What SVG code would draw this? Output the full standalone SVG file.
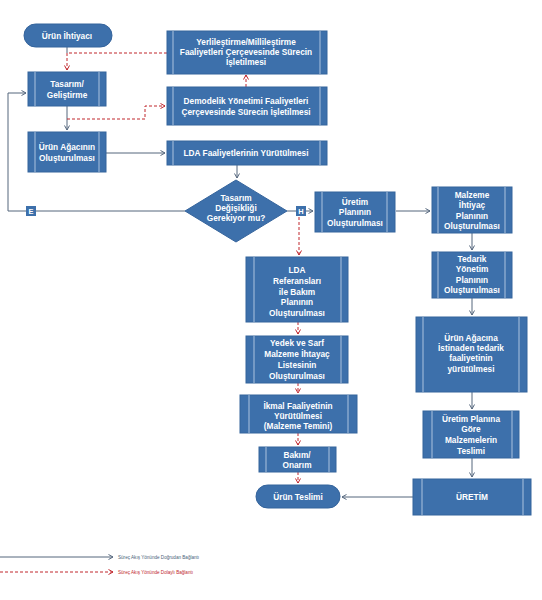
<svg xmlns="http://www.w3.org/2000/svg" width="542" height="600" viewBox="0 0 542 600">
<style>
.b{fill:#3d70ab;stroke:#35649c;stroke-width:1}
.il{stroke:#c9d8ec;stroke-width:0.8}
.t{font-family:"Liberation Sans",Arial,sans-serif;font-weight:bold;font-size:8.3px;fill:#ffffff;text-anchor:middle}
.s{font-family:"Liberation Sans",Arial,sans-serif;font-weight:bold;font-size:7.4px;fill:#ffffff;text-anchor:middle}
.g{fill:none;stroke:#55677d;stroke-width:1}
.r{fill:none;stroke:#c0272d;stroke-width:1;stroke-dasharray:3,2}
.lg{font-family:"Liberation Sans",Arial,sans-serif;font-size:4.6px}
</style>
<defs>
<marker id="ag" markerWidth="6" markerHeight="6" refX="5" refY="3" orient="auto" markerUnits="userSpaceOnUse"><path d="M0.5,0.5 L5,3 L0.5,5.5" fill="none" stroke="#55677d" stroke-width="1"/></marker>
<marker id="ar" markerWidth="6" markerHeight="6" refX="5" refY="3" orient="auto" markerUnits="userSpaceOnUse"><path d="M0.5,0.5 L5,3 L0.5,5.5" fill="none" stroke="#c0272d" stroke-width="1"/></marker>
</defs>
<rect width="542" height="600" fill="#ffffff"/>

<g id="connectors">
<path class="g" d="M67,47 V53"/>
<path class="r" d="M167,53 H67 V70" marker-end="url(#ar)"/>
<path class="g" d="M67,106 V130" marker-end="url(#ag)"/>
<path class="r" d="M67,119 H145 V106 H165" marker-end="url(#ar)"/>
<path class="r" d="M246,87 V75" marker-end="url(#ar)"/>
<path class="g" d="M106,153 H165" marker-end="url(#ag)"/>
<path class="g" d="M237,165 V178" marker-end="url(#ag)"/>
<path class="g" d="M185,211 H8 V93 H26" marker-end="url(#ag)"/>
<path class="g" d="M287,211 H313" marker-end="url(#ag)"/>
<path class="r" d="M299,217 V255" marker-end="url(#ar)"/>
<path class="g" d="M396,211 H430" marker-end="url(#ag)"/>
<path class="g" d="M472,233 V250" marker-end="url(#ag)"/>
<path class="g" d="M472,298 V315" marker-end="url(#ag)"/>
<path class="g" d="M472,392 V409" marker-end="url(#ag)"/>
<path class="g" d="M472,458 V477" marker-end="url(#ag)"/>
<path class="r" d="M298,322 V334" marker-end="url(#ar)"/>
<path class="r" d="M298,383 V393" marker-end="url(#ar)"/>
<path class="r" d="M298,433 V445" marker-end="url(#ar)"/>
<path class="r" d="M298,472 V483" marker-end="url(#ar)"/>
<path class="g" d="M413,497 H342" marker-end="url(#ag)"/>
</g>

<g id="n-urun-ihtiyaci"><rect class="b" x="24" y="24" width="88" height="23" rx="11.5"/><text class="t" x="67" y="38.5">Ürün İhtiyacı</text></g>

<g id="n-yerlilestirme"><rect class="b" x="167" y="31" width="160" height="43"/><line class="il" x1="173" y1="31" x2="173" y2="74"/><line class="il" x1="320" y1="31" x2="320" y2="74"/>
<text class="t" x="246" y="45">Yerlileştirme/Millileştirme</text><text class="t" x="246" y="55">Faaliyetleri Çerçevesinde Sürecin</text><text class="t" x="246" y="65">İşletilmesi</text></g>

<g id="n-tasarim"><rect class="b" x="28" y="72" width="78" height="34"/><line class="il" x1="35" y1="72" x2="35" y2="106"/><line class="il" x1="99" y1="72" x2="99" y2="106"/>
<text class="t" x="67" y="87">Tasarım/</text><text class="t" x="67" y="97.5">Geliştirme</text></g>

<g id="n-demodelik"><rect class="b" x="167" y="87" width="160" height="38"/><line class="il" x1="173" y1="87" x2="173" y2="125"/><line class="il" x1="320" y1="87" x2="320" y2="125"/>
<text class="t" x="246" y="104">Demodelik Yönetimi Faaliyetleri</text><text class="t" x="246" y="115">Çerçevesinde Sürecin İşletilmesi</text></g>

<g id="n-urun-agaci"><rect class="b" x="28" y="132" width="78" height="40"/><line class="il" x1="35" y1="132" x2="35" y2="172"/><line class="il" x1="99" y1="132" x2="99" y2="172"/>
<text class="t" x="67" y="150">Ürün Ağacının</text><text class="t" x="67" y="161">Oluşturulması</text></g>

<g id="n-lda-faaliyet"><rect class="b" x="167" y="141" width="160" height="24"/><line class="il" x1="173" y1="141" x2="173" y2="165"/><line class="il" x1="320" y1="141" x2="320" y2="165"/>
<text class="t" x="246" y="156">LDA Faaliyetlerinin Yürütülmesi</text></g>

<g id="n-karar"><polygon class="b" points="236,180 287,211 236,242 185,211"/>
<text class="t" x="236" y="201">Tasarım</text><text class="t" x="236" y="211">Değişikliği</text><text class="t" x="236" y="221">Gerekiyor mu?</text></g>

<g id="n-e"><rect x="26" y="206" width="10" height="10" fill="#3d70ab"/><text class="s" x="31" y="213.8">E</text></g>
<g id="n-h"><rect x="296" y="206" width="10" height="10" fill="#3d70ab"/><text class="s" x="301" y="213.8">H</text></g>

<g id="n-uretim-plani"><rect class="b" x="315" y="192" width="80" height="40"/><line class="il" x1="322" y1="192" x2="322" y2="232"/><line class="il" x1="387" y1="192" x2="387" y2="232"/>
<text class="t" x="355" y="204.5">Üretim</text><text class="t" x="355" y="215">Planının</text><text class="t" x="355" y="225.5">Oluşturulması</text></g>

<g id="n-malzeme"><rect class="b" x="432" y="187" width="80" height="46"/><line class="il" x1="438" y1="187" x2="438" y2="233"/><line class="il" x1="505" y1="187" x2="505" y2="233"/>
<text class="t" x="472" y="197.5">Malzeme</text><text class="t" x="472" y="208">İhtiyaç</text><text class="t" x="472" y="218.5">Planının</text><text class="t" x="472" y="229">Oluşturulması</text></g>

<g id="n-tedarik"><rect class="b" x="432" y="252" width="80" height="46"/><line class="il" x1="438" y1="252" x2="438" y2="298"/><line class="il" x1="505" y1="252" x2="505" y2="298"/>
<text class="t" x="472" y="261.5">Tedarik</text><text class="t" x="472" y="272">Yönetim</text><text class="t" x="472" y="282.5">Planının</text><text class="t" x="472" y="293">Oluşturulması</text></g>

<g id="n-lda-ref"><rect class="b" x="246" y="257" width="102" height="65"/><line class="il" x1="254" y1="257" x2="254" y2="322"/><line class="il" x1="341" y1="257" x2="341" y2="322"/>
<text class="t" x="297" y="272.5">LDA</text><text class="t" x="297" y="283.5">Referansları</text><text class="t" x="297" y="294.5">ile Bakım</text><text class="t" x="297" y="305">Planının</text><text class="t" x="297" y="315.5">Oluşturulması</text></g>

<g id="n-yedek"><rect class="b" x="246" y="336" width="102" height="47"/><line class="il" x1="254" y1="336" x2="254" y2="383"/><line class="il" x1="341" y1="336" x2="341" y2="383"/>
<text class="t" x="297" y="345.5">Yedek ve Sarf</text><text class="t" x="297" y="356.5">Malzeme İhtayaç</text><text class="t" x="297" y="367.5">Listesinin</text><text class="t" x="297" y="378.5">Oluşturulması</text></g>

<g id="n-istinaden"><rect class="b" x="416" y="317" width="111" height="75"/><line class="il" x1="423" y1="317" x2="423" y2="392"/><line class="il" x1="519" y1="317" x2="519" y2="392"/>
<text class="t" x="471" y="340.5">Ürün Ağacına</text><text class="t" x="471" y="350.5">İstinaden tedarik</text><text class="t" x="471" y="360.5">faaliyetinin</text><text class="t" x="471" y="371.5">yürütülmesi</text></g>

<g id="n-ikmal"><rect class="b" x="240" y="395" width="117" height="38"/><line class="il" x1="249" y1="395" x2="249" y2="433"/><line class="il" x1="348" y1="395" x2="348" y2="433"/>
<text class="t" x="298" y="408.5">İkmal Faaliyetinin</text><text class="t" x="298" y="418.5">Yürütülmesi</text><text class="t" x="298" y="428.5">(Malzeme Temini)</text></g>

<g id="n-teslim-malzeme"><rect class="b" x="423" y="411" width="96" height="47"/><line class="il" x1="432" y1="411" x2="432" y2="458"/><line class="il" x1="512" y1="411" x2="512" y2="458"/>
<text class="t" x="471" y="421.5">Üretim Planına</text><text class="t" x="471" y="431.5">Göre</text><text class="t" x="471" y="443">Malzemelerin</text><text class="t" x="471" y="453.5">Teslimi</text></g>

<g id="n-bakim"><rect class="b" x="259" y="447" width="77" height="25"/><line class="il" x1="266" y1="447" x2="266" y2="472"/><line class="il" x1="329" y1="447" x2="329" y2="472"/>
<text class="t" x="297" y="457.5">Bakım/</text><text class="t" x="297" y="468">Onarım</text></g>

<g id="n-uretim"><rect class="b" x="413" y="479" width="118" height="36"/><line class="il" x1="422" y1="479" x2="422" y2="515"/><line class="il" x1="523" y1="479" x2="523" y2="515"/>
<text class="t" x="472" y="499.5">ÜRETİM</text></g>

<g id="n-urun-teslimi"><rect class="b" x="256" y="485" width="84" height="23" rx="11.5"/><text class="t" x="298" y="499.5">Ürün Teslimi</text></g>

<g id="legend">
<path class="g" d="M0,557 H113" marker-end="url(#ag)"/>
<text class="lg" x="118" y="558.6" fill="#4a5f7a">Süreç Akış Yönünde Doğrudan Bağlantı</text>
<path class="r" d="M0,572 H113" marker-end="url(#ar)"/>
<text class="lg" x="118" y="573.6" fill="#c0272d">Süreç Akış Yönünde Dolaylı Bağlantı</text>
</g>
</svg>
